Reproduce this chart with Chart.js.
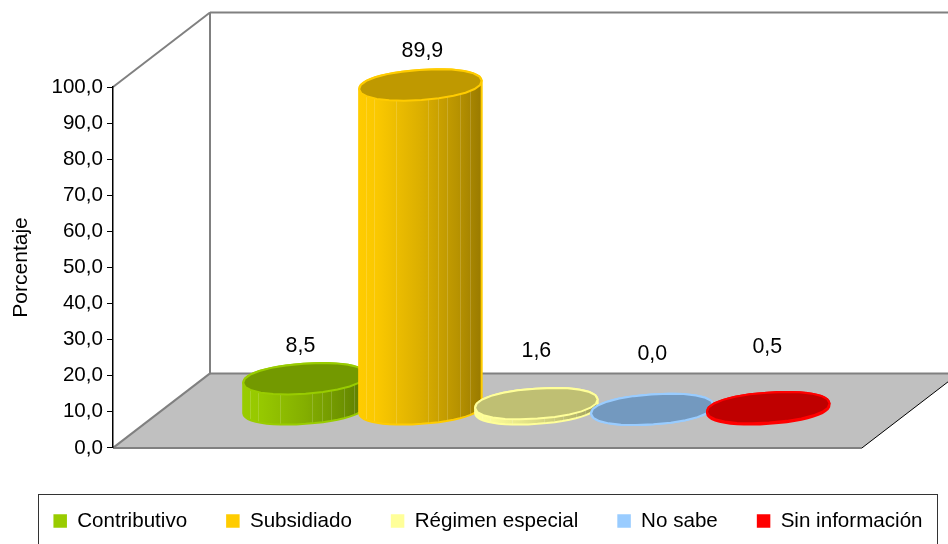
<!DOCTYPE html>
<html>
<head>
<meta charset="utf-8">
<script src="https://cdn.jsdelivr.net/npm/chart.js@4"></script>
<style>
	html, body { margin: 0; padding: 0; background: #fff; overflow: hidden; }
	canvas { display: block; }
</style>
</head>
<body>
<canvas id="regimen" width="948" height="544"></canvas>
<script>
const categories = ["Contributivo", "Subsidiado", "Régimen especial", "No sabe", "Sin información"];
const percentages = [8.5, 89.9, 1.6, 0.0, 0.5];
const tickValues = [0, 10, 20, 30, 40, 50, 60, 70, 80, 90, 100];
const colors = ["#99CC00", "#FFCC00", "#FFFF99", "#99CCFF", "#FF0000"];

const FONT = "'Liberation Sans', Arial, sans-serif";
const FONT_SIZE = 20.6;
const LEGEND_PAD = 39;

// 3D look: depth of the floor and how the bars sit on it
const DEPTH_X = 97;
const DEPTH_Y = 74.5;
const BAR_LIFT = 38.5;
const FLOOR_LEFT = 246.5;
const FLOOR_SCALE = 0.774;
const TILT = -0.07;
// excel put the labels at uneven spots
const labelLift = [33, 34, 53, 55, 60];
const labelShift = [-4, 2, 0, 0, -1];
const hairlines = [0.06, 0.12, 0.3, 0.56, 0.64, 0.72, 0.82, 0.9];

function fmt(v) {
	return v.toFixed(1).replace(".", ",");
}

function shade(hex, k) {
	const n = parseInt(hex.slice(1), 16);
	const r = Math.round(((n >> 16) & 255) * k);
	const g = Math.round(((n >> 8) & 255) * k);
	const b = Math.round((n & 255) * k);
	return "rgb(" + r + "," + g + "," + b + ")";
}

function line(ctx, x1, y1, x2, y2, color, width) {
	ctx.strokeStyle = color;
	ctx.lineWidth = width;
	ctx.beginPath();
	ctx.moveTo(x1, y1);
	ctx.lineTo(x2, y2);
	ctx.stroke();
}

// the caps are a little fatter than a true ellipse, so trace a superellipse
function capPoint(cx, cy, rx, ry, t) {
	const c = Math.cos(t);
	const s = Math.sin(t);
	const ex = rx * Math.sign(c) * Math.pow(Math.abs(c), 0.93);
	const ey = ry * Math.sign(s) * Math.pow(Math.abs(s), 0.93);
	return [cx + ex * Math.cos(TILT) - ey * Math.sin(TILT), cy + ex * Math.sin(TILT) + ey * Math.cos(TILT)];
}

function traceCap(ctx, cx, cy, rx, ry, from, to) {
	const steps = 24;
	for (let i = 0; i <= steps; i++) {
		const p = capPoint(cx, cy, rx, ry, from + (to - from) * i / steps);
		ctx.lineTo(p[0], p[1]);
	}
}

function traceBody(ctx, cx, topY, baseY, rx, ry) {
	ctx.beginPath();
	traceCap(ctx, cx, baseY, rx, ry, 0, Math.PI);
	traceCap(ctx, cx, topY, rx, ry, Math.PI, Math.PI * 2);
	ctx.closePath();
}

function drawCylinder(ctx, cx, topY, baseY, rx, ry, color) {
	// side
	const grad = ctx.createLinearGradient(cx - rx, 0, cx + rx, 0);
	grad.addColorStop(0, shade(color, 1));
	grad.addColorStop(0.15, shade(color, 0.98));
	grad.addColorStop(0.5, shade(color, 0.86));
	grad.addColorStop(0.8, shade(color, 0.72));
	grad.addColorStop(1, shade(color, 0.6));

	traceBody(ctx, cx, topY, baseY, rx, ry);
	ctx.fillStyle = grad;
	ctx.fill();

	ctx.save();
	ctx.clip();
	hairlines.forEach(function (f) {
		const x = Math.round(cx - rx + f * 2 * rx) + 0.5;
		line(ctx, x, topY - ry * 2, x, baseY + ry * 2, "rgba(255,255,255,0.16)", 1);
	});
	ctx.restore();

	traceBody(ctx, cx, topY, baseY, rx, ry);
	ctx.strokeStyle = color;
	ctx.lineWidth = 2;
	ctx.stroke();

	// top face
	ctx.beginPath();
	traceCap(ctx, cx, topY, rx, ry, 0, Math.PI * 2);
	ctx.closePath();
	ctx.fillStyle = shade(color, 0.75);
	ctx.fill();
	ctx.stroke();
}

const box3d = {
	id: "box3d",
	afterLayout(chart) {
		// row of the legend sits lower than the layout leaves it, and a bit to the right
		chart.legend.top = 510.6 - LEGEND_PAD;
		chart.legend.bottom = 544;
		chart.legend.left = 14;
		chart.legend.right = 962;
	},
	beforeDraw(chart) {
		const ctx = chart.ctx;
		const a = chart.chartArea;
		ctx.save();
		ctx.beginPath();
		ctx.moveTo(a.left, a.bottom);
		ctx.lineTo(a.right, a.bottom);
		ctx.lineTo(a.right + DEPTH_X, a.bottom - DEPTH_Y);
		ctx.lineTo(a.left + DEPTH_X, a.bottom - DEPTH_Y);
		ctx.closePath();
		ctx.fillStyle = "#C0C0C0";
		ctx.fill();

		const backX = a.left + DEPTH_X;
		const backTop = a.top - DEPTH_Y;
		const backBottom = a.bottom - DEPTH_Y;
		line(ctx, a.left, a.top, backX, backTop, "#808080", 2);
		line(ctx, backX, backTop, chart.width, backTop, "#808080", 2);
		line(ctx, backX, backTop, backX, backBottom, "#808080", 2);
		line(ctx, backX, backBottom, chart.width, backBottom, "#808080", 2);
		line(ctx, a.left, a.bottom, backX, backBottom, "#808080", 2);
		line(ctx, a.left, a.bottom, a.right, a.bottom, "#808080", 2);
		line(ctx, a.right, a.bottom, a.right + DEPTH_X, backBottom, "#000000", 1);

		// legend frame, runs off the bottom of the picture
		ctx.strokeStyle = "#333333";
		ctx.lineWidth = 1;
		ctx.strokeRect(38.5, 494.5, 899, 60);
		ctx.restore();
	},
	afterDatasetsDraw(chart) {
		const ctx = chart.ctx;
		const a = chart.chartArea;
		const bars = chart.getDatasetMeta(0).data;
		ctx.save();
		bars.forEach(function (bar, i) {
			const cx = FLOOR_LEFT + (bar.x - a.left) * FLOOR_SCALE;
			drawCylinder(ctx, cx, bar.y - BAR_LIFT, bar.base - BAR_LIFT, bar.width * 0.41, 15, colors[i]);
		});
		ctx.fillStyle = "#000";
		ctx.font = "21.4px " + FONT;
		ctx.textAlign = "center";
		ctx.textBaseline = "middle";
		bars.forEach(function (bar, i) {
			const cx = FLOOR_LEFT + (bar.x - a.left) * FLOOR_SCALE;
			ctx.fillText(fmt(percentages[i]), cx + labelShift[i], bar.y - BAR_LIFT - labelLift[i]);
		});
		ctx.restore();
	}
};

new Chart(document.getElementById("regimen").getContext("2d"), {
	type: "bar",
	data: {
		labels: categories,
		datasets: [{
			label: "Porcentaje",
			data: percentages,
			backgroundColor: "transparent",
			borderWidth: 0,
			categoryPercentage: 1,
			barPercentage: 1,
		}],
	},
	plugins: [box3d],
	options: {
		responsive: false,
		animation: false,
		layout: {
			padding: { top: 87, left: 0, right: 0, bottom: 26.5 },
		},
		plugins: {
			tooltip: { enabled: false },
			legend: {
				position: "bottom",
				labels: {
					color: "#000",
					boxWidth: 13.5,
					boxHeight: 13.5,
					padding: LEGEND_PAD,
					font: { family: FONT, size: FONT_SIZE },
					generateLabels: function () {
						return categories.map(function (name, i) {
							return { text: name, fillStyle: colors[i], lineWidth: 0, strokeStyle: colors[i], index: i };
						});
					},
				},
			},
		},
		scales: {
			x: {
				display: false,
			},
			y: {
				min: 0,
				max: 100,
				afterFit: function (scale) { scale.width = 113; },
				afterBuildTicks: function (scale) {
					scale.ticks = tickValues.map(function (v) { return { value: v }; });
				},
				ticks: {
					color: "#000",
					padding: 4,
					autoSkip: false,
					font: { family: FONT, size: FONT_SIZE },
					callback: function (v) { return fmt(v); },
				},
				grid: {
					drawOnChartArea: false,
					tickLength: 6,
					color: "#000",
				},
				border: { color: "#000", width: 1.5 },
				title: {
					display: true,
					text: "Porcentaje",
					color: "#000",
					padding: { top: 9, bottom: 0 },
					font: { family: FONT, size: 21 },
				},
			},
			yRight: {
				position: "right",
				display: true,
				afterFit: function (scale) { scale.width = 86; },
				ticks: { display: false },
				grid: { display: false },
				border: { display: false },
			},
		},
	},
});
</script>
</body>
</html>
